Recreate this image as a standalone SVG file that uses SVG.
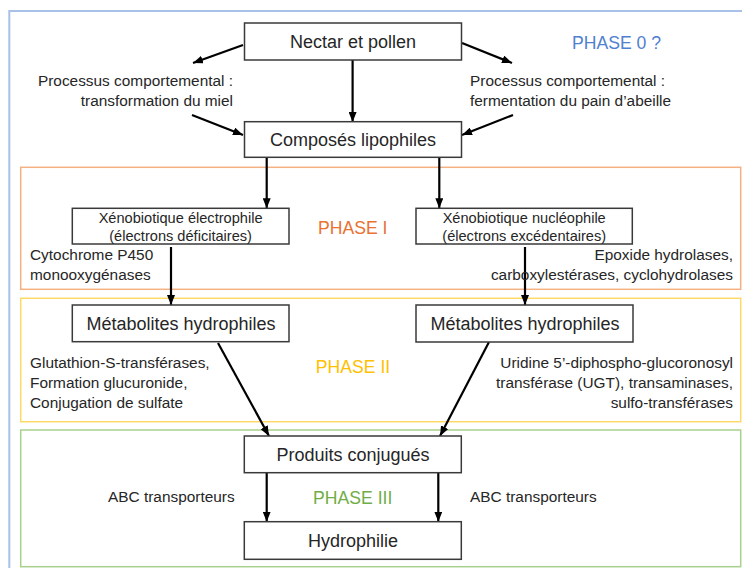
<svg xmlns="http://www.w3.org/2000/svg" width="742" height="568" viewBox="0 0 742 568">
<style>
  text { font-family: "Liberation Sans", Arial, sans-serif; fill: #262626; }
  .node rect { fill: #ffffff; stroke: #3a3a3a; stroke-width: 1.5; }
  .lbl { font-size: 18px; text-anchor: middle; }
  .small { font-size: 14.6px; text-anchor: middle; }
  .side { font-size: 15.4px; }
  .end { text-anchor: end; }
  .phase { font-size: 17.6px; text-anchor: middle; }
  .frame { fill: none; }
  #connectors line { stroke: #000000; stroke-width: 2.2; marker-end: url(#arrow); }
</style>
<defs>
  <marker id="arrow" viewBox="0 0 10 8" markerWidth="10" markerHeight="8" refX="10" refY="4" orient="auto" markerUnits="userSpaceOnUse">
    <path d="M0,0 L10,4 L0,8 z" fill="#000000"/>
  </marker>
</defs>
<rect width="742" height="568" fill="#ffffff"/>

<g id="frames">
  <rect class="frame" x="9.3" y="11" width="800" height="620" stroke="#A9C0E8" stroke-width="2"/>
  <rect class="frame" x="20.7" y="167.3" width="720" height="122" stroke="#F4B183" stroke-width="1.5"/>
  <rect class="frame" x="20.7" y="298.3" width="720" height="123.4" stroke="#FFD966" stroke-width="1.5"/>
  <rect class="frame" x="20.7" y="430" width="720" height="136.7" stroke="#A9D18E" stroke-width="1.5"/>
</g>

<g id="phase-labels">
  <text class="phase" x="616.5" y="49" style="fill:#4F81D0">PHASE 0 ?</text>
  <text class="phase" x="352.7" y="234" style="fill:#E97132">PHASE I</text>
  <text class="phase" x="353" y="372.5" style="fill:#FFC000">PHASE II</text>
  <text class="phase" x="352.7" y="504" style="fill:#70AD47">PHASE III</text>
</g>

<g id="connectors">
  <line x1="243" y1="45" x2="193" y2="63"/>
  <line x1="462" y1="43" x2="512" y2="63"/>
  <line x1="352.6" y1="60" x2="352.6" y2="122"/>
  <line x1="192" y1="115" x2="243" y2="135"/>
  <line x1="513" y1="115" x2="462" y2="135"/>
  <line x1="266.7" y1="157.3" x2="266.7" y2="208.3"/>
  <line x1="439.3" y1="157.3" x2="439.3" y2="208.3"/>
  <line x1="171" y1="247" x2="171" y2="305"/>
  <line x1="525" y1="247" x2="525" y2="305"/>
  <line x1="218" y1="343" x2="269" y2="436"/>
  <line x1="489" y1="342" x2="440" y2="436"/>
  <line x1="266.7" y1="472.7" x2="266.7" y2="521.7"/>
  <line x1="438.3" y1="472.7" x2="438.3" y2="521.7"/>
</g>

<g id="nectar" class="node">
  <rect x="244.5" y="23" width="217" height="37"/>
  <text class="lbl" x="353" y="48">Nectar et pollen</text>
</g>
<g id="composes" class="node">
  <rect x="244.5" y="121.7" width="217" height="35.6"/>
  <text class="lbl" x="353" y="146">Composés lipophiles</text>
</g>
<g id="xeno-electrophile" class="node">
  <rect x="72.3" y="208.3" width="216.7" height="35.7"/>
  <text class="small" x="180.6" y="223">Xénobiotique électrophile</text>
  <text class="small" x="180.6" y="240.5">(électrons déficitaires)</text>
</g>
<g id="xeno-nucleophile" class="node">
  <rect x="416" y="208.3" width="216.3" height="35.7"/>
  <text class="small" x="524.2" y="223">Xénobiotique nucléophile</text>
  <text class="small" x="524.2" y="240.5">(électrons excédentaires)</text>
</g>
<g id="metabolites-left" class="node">
  <rect x="72.3" y="305" width="216.7" height="36.7"/>
  <text class="lbl" x="181" y="330">Métabolites hydrophiles</text>
</g>
<g id="metabolites-right" class="node">
  <rect x="416" y="305" width="217" height="37"/>
  <text class="lbl" x="525" y="330">Métabolites hydrophiles</text>
</g>
<g id="produits" class="node">
  <rect x="244.3" y="436" width="217" height="36.7"/>
  <text class="lbl" x="353" y="460.5">Produits conjugués</text>
</g>
<g id="hydrophilie" class="node">
  <rect x="244.3" y="521.7" width="217" height="37.6"/>
  <text class="lbl" x="353" y="547">Hydrophilie</text>
</g>

<g id="side-labels">
  <text class="side end" x="233" y="86">Processus comportemental :</text>
  <text class="side end" x="233" y="106">transformation du miel</text>
  <text class="side" x="470" y="86">Processus comportemental :</text>
  <text class="side" x="470" y="106">fermentation du pain d’abeille</text>
  <text class="side" x="30" y="260">Cytochrome P450</text>
  <text class="side" x="30" y="280">monooxygénases</text>
  <text class="side end" x="733" y="260">Epoxide hydrolases,</text>
  <text class="side end" x="733" y="280">carboxylestérases, cyclohydrolases</text>
  <text class="side" x="30" y="368">Glutathion-S-transférases,</text>
  <text class="side" x="30" y="388">Formation glucuronide,</text>
  <text class="side" x="30" y="408">Conjugation de sulfate</text>
  <text class="side end" x="733" y="368">Uridine 5’-diphospho-glucoronosyl</text>
  <text class="side end" x="733" y="388">transférase (UGT), transaminases,</text>
  <text class="side end" x="733" y="408">sulfo-transférases</text>
  <text class="side" x="108" y="501.7">ABC transporteurs</text>
  <text class="side" x="470" y="501.7">ABC transporteurs</text>
</g>
</svg>
